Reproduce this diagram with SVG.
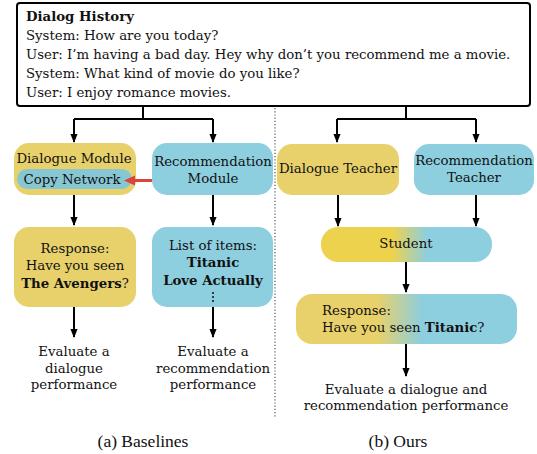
<svg xmlns="http://www.w3.org/2000/svg" width="537" height="454" viewBox="0 0 537 454">
<defs>
<style>
.t{font-family:"DejaVu Serif","Liberation Serif",serif;font-size:13.3px;fill:#111}
.c{text-anchor:middle}
.b{font-weight:bold}
.cap{font-family:"Liberation Serif",serif;font-size:17.5px;fill:#111;text-anchor:middle}
.ln{stroke:#000;stroke-width:2;fill:none}
.y{fill:#E8D16B}
.bl{fill:#8DCEDF}
</style>
<marker id="ah" viewBox="0 0 10 10" refX="9" refY="5" markerWidth="9" markerHeight="9" orient="auto" markerUnits="userSpaceOnUse">
<path d="M0,1 L10,5 L0,9 z" fill="#000"/>
</marker>
<linearGradient id="g1" x1="321" x2="492" y1="0" y2="0" gradientUnits="userSpaceOnUse">
<stop offset="0" stop-color="#EDD24E"/>
<stop offset="0.42" stop-color="#EDD24E"/>
<stop offset="0.62" stop-color="#8DCEDF"/>
<stop offset="1" stop-color="#8DCEDF"/>
</linearGradient>
<linearGradient id="g2" x1="296" x2="517" y1="0" y2="0" gradientUnits="userSpaceOnUse">
<stop offset="0" stop-color="#E8D16B"/>
<stop offset="0.37" stop-color="#E8D16B"/>
<stop offset="0.57" stop-color="#8DCEDF"/>
<stop offset="1" stop-color="#8DCEDF"/>
</linearGradient>
</defs>
<rect width="537" height="454" fill="#fff"/>

<g id="dialog-history">
<rect x="17" y="3" width="513" height="103" rx="3" fill="#fff" stroke="#000" stroke-width="2"/>
<text class="t b" x="26" y="21">Dialog History</text>
<text class="t" x="26" y="40">System: How are you today?</text>
<text class="t" x="26" y="59">User: I’m having a bad day. Hey why don’t you recommend me a movie.</text>
<text class="t" x="26" y="78">System: What kind of movie do you like?</text>
<text class="t" x="26" y="97">User: I enjoy romance movies.</text>
</g>

<g id="dialogue-module">
<rect class="y" x="14" y="143" width="122" height="52" rx="15"/>
<text class="t c" x="74" y="163">Dialogue Module</text>
</g>
<g id="copy-network">
<rect x="17" y="169" width="115" height="20" rx="10" fill="#87C6D3"/>
<text class="t c" x="72" y="184">Copy Network</text>
</g>
<g id="recommendation-module">
<rect class="bl" x="152" y="143" width="121" height="52" rx="15"/>
<text class="t c" x="213" y="166">Recommendation</text>
<text class="t c" x="213" y="183">Module</text>
</g>
<g id="response-a">
<rect class="y" x="14" y="227" width="122" height="80" rx="15"/>
<text class="t c" x="75" y="253">Response:</text>
<text class="t c" x="75" y="270">Have you seen</text>
<text class="t c" x="75" y="288"><tspan class="b">The Avengers</tspan>?</text>
</g>
<g id="list-items">
<rect class="bl" x="152" y="227" width="121" height="80" rx="15"/>
<text class="t c" x="213" y="250">List of items:</text>
<text class="t c b" x="213" y="267">Titanic</text>
<text class="t c b" x="213" y="285">Love Actually</text>
<g fill="#111"><circle cx="213" cy="293" r="1"/><circle cx="213" cy="297" r="1"/><circle cx="213" cy="301" r="1"/></g>
</g>
<g id="eval-dialogue">
<text class="t c" x="74" y="356">Evaluate a</text>
<text class="t c" x="74" y="373">dialogue</text>
<text class="t c" x="74" y="389">performance</text>
</g>
<g id="eval-rec">
<text class="t c" x="213" y="356">Evaluate a</text>
<text class="t c" x="213" y="373">recommendation</text>
<text class="t c" x="213" y="389">performance</text>
</g>
<text class="cap" x="143" y="447">(a) Baselines</text>

<g id="dialogue-teacher">
<rect class="y" x="277" y="144" width="122" height="51" rx="15"/>
<text class="t c" x="338" y="173">Dialogue Teacher</text>
</g>
<g id="recommendation-teacher">
<rect class="bl" x="414" y="144" width="120" height="51" rx="15"/>
<text class="t c" x="474" y="165">Recommendation</text>
<text class="t c" x="474" y="182">Teacher</text>
</g>
<g id="student">
<rect x="321" y="227" width="171" height="35" rx="17" fill="url(#g1)"/>
<text class="t c" x="406" y="248">Student</text>
</g>
<g id="response-b">
<rect x="296" y="294" width="221" height="50" rx="16" fill="url(#g2)"/>
<text class="t" x="322" y="315">Response:</text>
<text class="t" x="322" y="332">Have you seen <tspan class="b">Titanic</tspan>?</text>
</g>
<g id="eval-both">
<text class="t c" x="406" y="394">Evaluate a dialogue and</text>
<text class="t c" x="406" y="410">recommendation performance</text>
</g>
<text class="cap" x="398" y="447">(b) Ours</text>

<g id="connectors">
<path class="ln" d="M143,106 V119 M74,119 H213 M74,119 V142" marker-end="url(#ah)"/>
<path class="ln" d="M213,119 V142" marker-end="url(#ah)"/>
<path class="ln" d="M74,195 V225" marker-end="url(#ah)"/>
<path class="ln" d="M213,195 V225" marker-end="url(#ah)"/>
<path class="ln" d="M74,307 V337" marker-end="url(#ah)"/>
<path class="ln" d="M213,307 V337" marker-end="url(#ah)"/>
<path d="M152,180.5 H133" stroke="#D9453A" stroke-width="3" fill="none"/>
<path d="M124,180.5 L135,175.5 L135,185.5 z" fill="#D9453A"/>
<path class="ln" d="M406,106 V119 M337,119 H476 M337,119 V142" marker-end="url(#ah)"/>
<path class="ln" d="M476,119 V142" marker-end="url(#ah)"/>
<path class="ln" d="M338,195 V226" marker-end="url(#ah)"/>
<path class="ln" d="M476,195 V226" marker-end="url(#ah)"/>
<path class="ln" d="M406,262 V292" marker-end="url(#ah)"/>
<path class="ln" d="M406,344 V376" marker-end="url(#ah)"/>
<path d="M275,108 V418" stroke="#555" stroke-width="1.2" stroke-dasharray="1.2,2" fill="none"/>
</g>
</svg>
